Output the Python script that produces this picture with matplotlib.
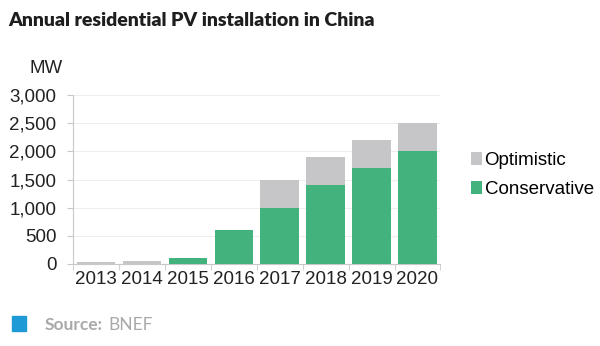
import numpy as np
import matplotlib.pyplot as plt

years = ['2013', '2014', '2015', '2016', '2017', '2018', '2019', '2020']
conservative = [0, 0, 100, 600, 1000, 1400, 1700, 2000]
optimistic_extra = [30, 50, 0, 0, 500, 500, 500, 500]
yticks = [0, 500, 1000, 1500, 2000, 2500, 3000]

GREEN = '#43b27d'
GREY = '#c6c5c7'
AXIS = '#c8c8c8'

plt.rcParams['font.family'] = ['Liberation Sans', 'DejaVu Sans']

fig = plt.figure(figsize=(6.0, 3.46), dpi=100)
ax = fig.add_axes([0.122, 0.237, 0.612, 0.488])

x = np.arange(len(years))
ax.bar(x, conservative, width=0.84, color=GREEN, label='Conservative', zorder=3)
ax.bar(x, optimistic_extra, width=0.84, bottom=conservative, color=GREY,
       label='Optimistic', zorder=3)

ax.set_xlim(-0.5, len(years) - 0.5)
ax.set_ylim(0, 3000)
ax.set_yticks(yticks)
ax.set_yticklabels([f'{v:,}' for v in yticks], fontsize=13.5, color='#222222')
ax.set_xticks(x)
ax.set_xticklabels(years, fontsize=13.5, color='#222222')
ax.tick_params(axis='x', length=0, pad=5)
ax.tick_params(axis='y', length=4, color=AXIS, pad=8)
# small separators between categories
ax.set_xticks(np.arange(-0.5, len(years)), minor=True)
ax.tick_params(axis='x', which='minor', length=4, color=AXIS)

ax.grid(axis='y', color='#eeeeee', linewidth=0.8, zorder=0)
for side in ['top', 'right']:
    ax.spines[side].set_visible(False)
ax.spines['left'].set_color(AXIS)
ax.spines['bottom'].set_color(AXIS)

handles, labels = ax.get_legend_handles_labels()
leg = fig.legend(handles[::-1], labels[::-1], loc='upper left',
                 bbox_to_anchor=(0.757, 0.61), frameon=False, fontsize=13.5,
                 handlelength=0.6, handleheight=0.7, handletextpad=0.12,
                 labelspacing=0.62)

fig.text(0.013, 0.925, 'Annual residential PV installation in China',
         fontsize=14, fontweight='heavy', family=['Lato', 'DejaVu Sans'],
         color='#1e1e1e')
fig.text(0.105, 0.79, 'MW', fontsize=13.5, ha='right', color='#222222')

fig.patches.append(plt.Rectangle((0.02, 0.043), 0.023, 0.043,
                                 transform=fig.transFigure, color='#1e9ad6'))
fig.text(0.075, 0.045, 'Source:', fontsize=12.5, fontweight='bold',
         family=['Lato', 'DejaVu Sans'], color='#a9a9a9')
fig.text(0.18, 0.045, 'BNEF', fontsize=12.5,
         family=['Lato', 'DejaVu Sans'], color='#a9a9a9')

fig.savefig('out.png', dpi=100, facecolor='white')
